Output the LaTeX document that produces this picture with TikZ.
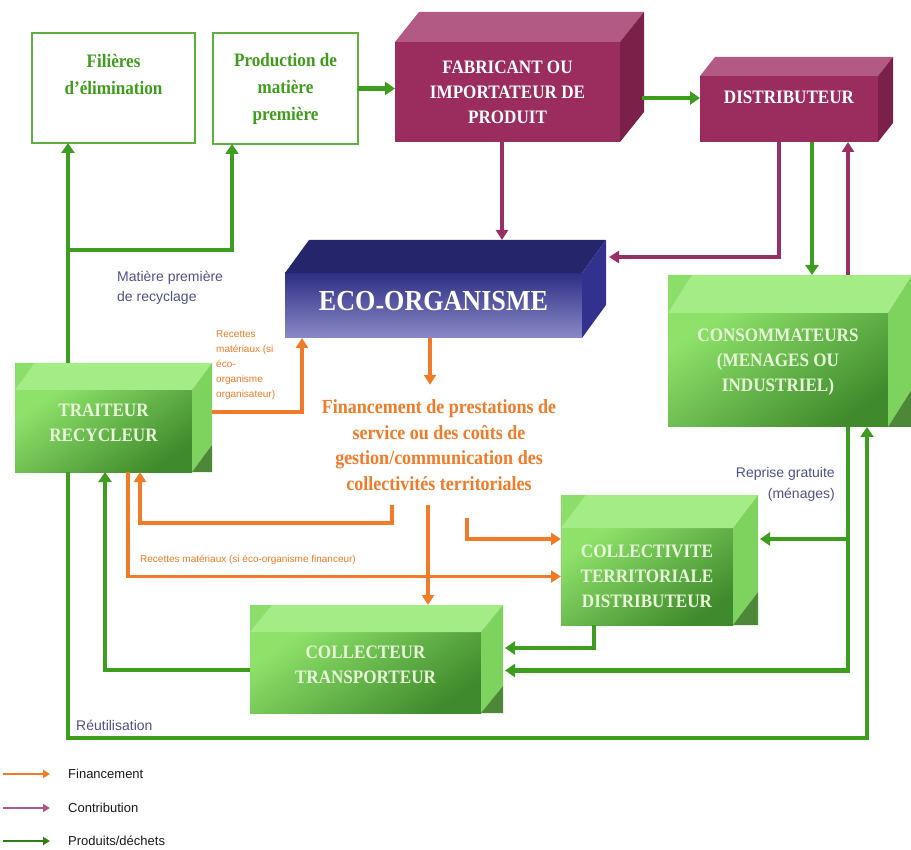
\documentclass[tikz,border=0pt]{standalone}
\usepackage{fontspec}
\setmainfont{Liberation Serif}
\newfontfamily\boxfont[FakeStretch=0.9]{Liberation Serif}
\newfontfamily\labelfont{Liberation Sans}
\usepackage{tikz}
\usetikzlibrary{arrows.meta,calc,positioning}

\definecolor{gborder}{HTML}{5FB040}
\definecolor{gtext}{HTML}{3F9C1C}
\definecolor{gfrontA}{HTML}{8EE26A}
\definecolor{gfrontB}{HTML}{3F8A2C}
\definecolor{gtop}{HTML}{A4EC86}
\definecolor{gcorner}{HTML}{8CDE6A}
\definecolor{gside}{HTML}{7ED35E}
\definecolor{gdark}{HTML}{4C8838}
\definecolor{gwhite}{HTML}{E8F6DA}
\definecolor{pfront}{HTML}{9B2C5E}
\definecolor{ptop}{HTML}{B35A84}
\definecolor{pside}{HTML}{7B2049}
\definecolor{efrontA}{HTML}{2E2E84}
\definecolor{efrontB}{HTML}{8A8AC8}
\definecolor{etop}{HTML}{25256B}
\definecolor{eside}{HTML}{32328E}
\definecolor{flowgreen}{HTML}{3E9C1F}
\definecolor{flowpurple}{HTML}{9A2F66}
\definecolor{floworange}{HTML}{F27A28}
\definecolor{labelblue}{HTML}{50508A}

% top and side faces of a box drawn from its front node
\newcommand{\cubefaces}[5]{%
  \fill[#4] (#1.north west) -- ++(#2,#3) -- ($(#1.north east)+(#2,#3)$) -- (#1.north east) -- cycle;
  \fill[#5] (#1.north east) -- ++(#2,#3) -- ($(#1.south east)+(#2,#3)$) -- (#1.south east) -- cycle;
}
% corner pieces of the green boxes
\newcommand{\cubecorners}[3]{%
  \fill[gcorner] (#1.north west) -- ++(0,#3) -- ++(#2,0) -- cycle;
  \fill[gdark] (#1.south east) -- ++(#2,0) -- ++(0,#3) -- cycle;
}

\begin{document}
\begin{tikzpicture}[x=1pt, y=-1pt,
    boxtext/.style={font=\boxfont\bfseries\fontsize{19}{25}\selectfont,
      align=center, inner sep=0pt, outer sep=0pt},
    outlinebox/.style={boxtext, draw=gborder, line width=1.6pt, fill=white,
      text=gtext, font=\boxfont\bfseries\fontsize{19}{27}\selectfont},
    purplebox/.style={boxtext, fill=pfront, text=white},
    greenbox/.style={boxtext, top color=gfrontA, bottom color=gfrontB,
      shading angle=35, text=gwhite},
    ecobox/.style={boxtext, top color=efrontA, bottom color=efrontB, text=white,
      font=\boxfont\bfseries\fontsize{29}{32}\selectfont},
    fintext/.style={align=center, inner sep=0pt, text=floworange,
      font=\boxfont\bfseries\fontsize{20}{25.5}\selectfont},
    smalltext/.style={inner sep=0pt, font=\labelfont\fontsize{14}{20}\selectfont,
      text=labelblue},
    tinytext/.style={inner sep=0pt, font=\labelfont\fontsize{10}{14.8}\selectfont,
      text=floworange},
    legendtext/.style={inner sep=0pt, anchor=west,
      font=\labelfont\fontsize{13}{15}\selectfont, text=black!90},
    garrow/.style={line width=4.2pt, draw=flowgreen,
      -{Triangle[length=10pt,width=13pt]}},
    parrow/.style={line width=3.6pt, draw=flowpurple,
      -{Triangle[length=10pt,width=12pt]}},
    oarrow/.style={line width=3.6pt, draw=floworange,
      -{Triangle[length=10pt,width=12pt]}},
    legarrow/.style={line width=2.8pt, -{Triangle[length=7pt,width=8pt]}}
  ]
  \useasboundingbox (0,0) rectangle (911,850);

  % upper row
  \node[outlinebox, minimum width=163pt, minimum height=110pt] (filieres)
    at (113.5,88) {Filières\\d’élimination\\\mbox{}};
  \node[outlinebox, minimum width=145pt, minimum height=111pt] (production)
    at (285.5,88.5) {Production de\\matière\\première};

  \node[purplebox, minimum width=225pt, minimum height=100pt] (fabricant)
    at (507.5,92) {FABRICANT OU\\IMPORTATEUR DE\\PRODUIT};
  \cubefaces{fabricant}{24}{-30}{ptop}{pside}

  \node[purplebox, minimum width=178pt, minimum height=66pt, text depth=24pt]
    (distributeur) at (789,109) {DISTRIBUTEUR};
  \cubefaces{distributeur}{15}{-19}{ptop}{pside}

  % eco-organisme
  \node[ecobox, minimum width=297pt, minimum height=65pt, text depth=9pt] (eco)
    at (433.5,305.5) {ECO\raisebox{-0.3ex}{-}ORGANISME};
  \cubefaces{eco}{24}{-33}{etop}{eside}

  % green boxes
  \node[greenbox, minimum width=220pt, minimum height=114pt, text depth=20pt]
    (conso) at (778,370) {CONSOMMATEURS\\(MENAGES OU\\INDUSTRIEL)};
  \cubefaces{conso}{24}{-38}{gtop}{gside}
  \cubecorners{conso}{24}{-38}

  \node[greenbox, minimum width=177pt, minimum height=82pt, text depth=16pt]
    (traiteur) at (103.5,431) {TRAITEUR\\RECYCLEUR};
  \cubefaces{traiteur}{20}{-27}{gtop}{gside}
  \cubecorners{traiteur}{20}{-27}

  \node[greenbox, minimum width=172pt, minimum height=97pt] (collectivite)
    at (647,576.5) {COLLECTIVITE\\TERRITORIALE\\DISTRIBUTEUR};
  \cubefaces{collectivite}{25}{-33}{gtop}{gside}
  \cubecorners{collectivite}{25}{-33}

  \node[greenbox, minimum width=231pt, minimum height=81pt, text depth=15pt]
    (collecteur) at (365.5,672.5) {COLLECTEUR\\TRANSPORTEUR};
  \cubefaces{collecteur}{22}{-27}{gtop}{gside}
  \cubecorners{collecteur}{22}{-27}

  % texts
  \node[fintext, minimum height=120pt] (fin) at (439,445)
    {Financement de prestations de\\service ou des coûts de\\
     gestion/communication des\\collectivités territoriales};
  \node[smalltext, anchor=west, align=left] (lblmatiere) at (117,288)
    {Matière première\\de recyclage};
  \node[tinytext, anchor=west, align=left] (lblorga) at (216,365)
    {Recettes\\matériaux (si\\éco-\\organisme\\organisateur)};
  \node[tinytext, anchor=west] (lblfinanceur) at (140,560)
    {Recettes matériaux (si éco-organisme financeur)};
  \node[smalltext, anchor=east, align=right, font=\labelfont\fontsize{14}{21}\selectfont]
    (lblreprise) at (835,484) {Reprise gratuite\\(ménages)};
  \node[smalltext, anchor=west] (lblreutil) at (76,725) {Réutilisation};

  % helper points
  \coordinate (fabside) at ([xshift=22pt,yshift=-6pt]fabricant.east);
  \coordinate (consotop) at ([yshift=38pt]conso.north);
  \coordinate (csout) at ([xshift=70pt]conso.south);
  \coordinate (colside) at ([xshift=27pt,yshift=37.5pt]collectivite.east);
  \coordinate (ttop) at ([xshift=-35.5pt,yshift=27pt]traiteur.north);
  \coordinate (recyc) at (68,250);
  \coordinate (loopbot) at (460,738);
  \coordinate (ecotop) at ([yshift=33pt]eco.north);
  \coordinate (colltop) at ([yshift=27pt]collecteur.north);

  % products / waste
  \draw[garrow] (production.east) -- (fabricant.west |- production.east);
  \draw[garrow] (fabside) -- (fabside -| distributeur.west);
  \draw[garrow] ([xshift=23pt]distributeur.south)
    -- ([xshift=23pt]distributeur.south |- consotop);
  \draw[garrow] (csout) |- ([xshift=24pt,yshift=2pt]collecteur.east);
  \draw[garrow] (csout |- colside) -- (colside);
  \draw[garrow] ([xshift=-53pt]collectivite.south)
    |- ([xshift=24pt,yshift=24.5pt]collecteur.east);
  \draw[garrow] ([yshift=2.5pt]collecteur.west) -| ([xshift=1.5pt]traiteur.south);
  \draw[garrow] ([xshift=-35.5pt]traiteur.south) |- (loopbot)
    -| ([xshift=89pt]conso.south);
  \draw[garrow] (ttop) -- (ttop |- filieres.south);
  \draw[garrow] (recyc) -| ([xshift=-53.5pt]production.south);

  % contributions
  \draw[parrow] ([xshift=-5.5pt]fabricant.south)
    -- ([xshift=-5.5pt]fabricant.south |- ecotop);
  \draw[parrow] ([xshift=-10pt]distributeur.south)
    |- ([xshift=27pt,yshift=48.5pt]eco.east);
  \draw[parrow] ([xshift=70pt,yshift=38pt]conso.north)
    -- ([xshift=59pt]distributeur.south);

  % financing
  \draw[oarrow] ([xshift=-3.5pt]eco.south) -- ([xshift=-3.5pt]eco.south |- fin.north);
  \draw[oarrow] ([xshift=-47pt]fin.south) -- ++(0,18) -| ([xshift=36.5pt]traiteur.south);
  \draw[oarrow] ([xshift=-11pt]fin.south) -- ([xshift=-11pt]fin.south |- colltop);
  \draw[oarrow] ([xshift=28pt,yshift=-13pt]fin.south)
    |- ([yshift=37.5pt]collectivite.west);
  \draw[oarrow] ([xshift=24.5pt]traiteur.south) |- (collectivite.west);
  \draw[oarrow] ([xshift=20pt,yshift=19pt]traiteur.east) -| ([xshift=-131.5pt]eco.south);

  % legend
  \node[legendtext] (legfin) at (68,774) {Financement};
  \node[legendtext] (legcontrib) at (68,808) {Contribution};
  \node[legendtext] (legprod) at (68,841) {Produits/déchets};
  \coordinate (lf) at (3,774);
  \coordinate (lc) at (3,808);
  \coordinate (lp) at (3,841);
  \draw[legarrow, draw=floworange] (lf) -- ([xshift=-18pt]legfin.west);
  \draw[legarrow, draw=flowpurple!80] (lc) -- ([xshift=-18pt]legcontrib.west);
  \draw[legarrow, draw=flowgreen!80!black] (lp) -- ([xshift=-18pt]legprod.west);
\end{tikzpicture}
\end{document}
